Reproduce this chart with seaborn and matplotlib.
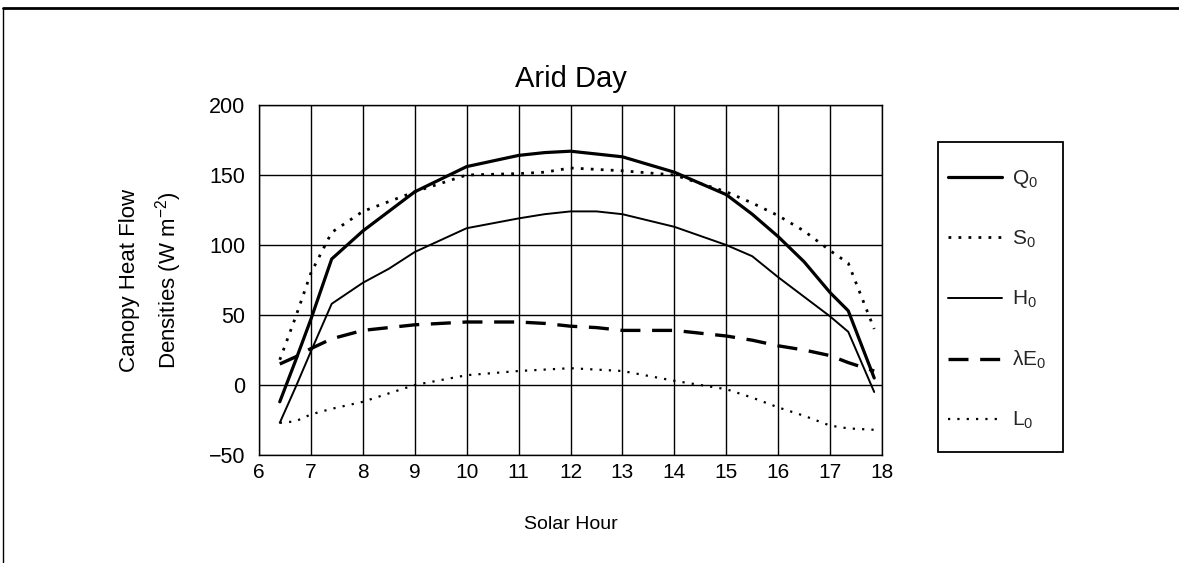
import matplotlib
matplotlib.use("Agg")
import matplotlib.pyplot as plt
import seaborn as sns
import pandas as pd
from matplotlib.lines import Line2D
from matplotlib.patches import Rectangle

# ---- data ----
hours = [6.4, 6.7, 7.0, 7.4, 8.0, 8.5, 9.0, 10.0, 11.0, 11.5, 12.0, 12.5, 13.0,
         14.0, 15.0, 15.5, 16.0, 16.5, 17.0, 17.35, 17.85]
q0 = [-12, 17, 47, 90, 110, 124, 138, 156, 164, 166, 167, 165, 163,
      152, 136, 122, 106, 88, 66, 53, 5]
s0 = [18, 48, 80, 109, 124, 131, 138, 150, 151, 152, 155, 154, 153,
      150, 138, 130, 121, 110, 96, 87, 40]
h0 = [-27, -2, 24, 58, 73, 83, 95, 112, 119, 122, 124, 124, 122,
      113, 100, 92, 77, 63, 49, 38, -5]
le0 = [15, 20, 26, 33, 39, 41, 43, 45, 45, 44, 42, 41, 39,
       39, 35, 32, 28, 25, 21, 16, 10]
l0 = [-27, -26, -21, -17, -12, -6, 0, 7, 10, 11, 12, 11, 10,
      3, -3, -9, -16, -22, -29, -31, -32]
labels = [r"Q$_0$", r"S$_0$", r"H$_0$", r"$\lambda$E$_0$", r"L$_0$"]
x_ticks = [6, 7, 8, 9, 10, 11, 12, 13, 14, 15, 16, 17, 18]
y_ticks = [-50, 0, 50, 100, 150, 200]

sns.set_theme(style="white")
plt.rcParams["font.family"] = ["Liberation Sans", "DejaVu Sans"]
plt.rcParams["mathtext.fontset"] = "custom"
plt.rcParams["mathtext.rm"] = "Liberation Sans"
plt.rcParams["mathtext.it"] = "Liberation Sans"
plt.rcParams["mathtext.default"] = "regular"

W, H = 1179, 563
fig = plt.figure(figsize=(W / 100, H / 100), dpi=100)
ax = fig.add_axes([259 / W, 1 - 455 / H, (882 - 259) / W, (455 - 105) / H])

df = pd.DataFrame({"hour": hours, "Q0": q0, "S0": s0, "H0": h0, "LE0": le0, "L0": l0})

styles = {
    "Q0": dict(lw=2.3, ls="-"),
    "S0": dict(lw=2.0, ls=(0, (1, 2.6))),
    "H0": dict(lw=1.4, ls="-"),
    "LE0": dict(lw=2.4, ls=(0, (6, 3.5))),
    "L0": dict(lw=1.6, ls=(0, (1, 3.2))),
}
handles = []
for col, lab in zip(["Q0", "S0", "H0", "LE0", "L0"], labels):
    st = styles[col]
    sns.lineplot(data=df, x="hour", y=col, ax=ax, color="black",
                 linewidth=st["lw"], linestyle=st["ls"], legend=False)
    handles.append(Line2D([], [], color="black", lw=st["lw"], ls=st["ls"]))

ax.set_xlim(6, 18)
ax.set_ylim(-50, 200)
ax.set_xticks(x_ticks)
ax.set_yticks(y_ticks)
ax.grid(True, color="black", linewidth=1.0)
ax.set_axisbelow(True)
for sp in ax.spines.values():
    sp.set_color("black")
    sp.set_linewidth(1.0)
ax.tick_params(axis="y", length=0, labelsize=15.5, colors="black", pad=10)
ax.tick_params(axis="x", length=0, labelsize=15, colors="black", pad=6)
ax.set_xlabel("Solar Hour", fontsize=14, color="black", labelpad=24)
ax.set_ylabel("Canopy Heat Flow\nDensities (W m$^{-2}$)", fontsize=16,
              color="black", labelpad=18, linespacing=1.55)
ax.set_title("Arid Day", fontsize=21, color="black", pad=13)

leg = fig.legend(handles, labels, loc="upper left",
                 bbox_to_anchor=(948 / W, 1 - 168 / H),
                 frameon=False, fontsize=15, handlelength=2.6, handletextpad=0.45,
                 labelspacing=1.86, borderpad=0, borderaxespad=0)
fig.add_artist(Rectangle((938 / W, 1 - 452 / H), (1063 - 938) / W, (452 - 142) / H,
                         transform=fig.transFigure, fill=False,
                         edgecolor="black", lw=1.3))

# figure border (top and left edges)
fig.add_artist(Line2D([3 / W, 1], [1 - 8 / H, 1 - 8 / H], transform=fig.transFigure,
                      color="black", lw=2))
fig.add_artist(Line2D([3 / W, 3 / W], [0, 1 - 8 / H], transform=fig.transFigure,
                      color="black", lw=1))

fig.savefig("out.png", dpi=100)
